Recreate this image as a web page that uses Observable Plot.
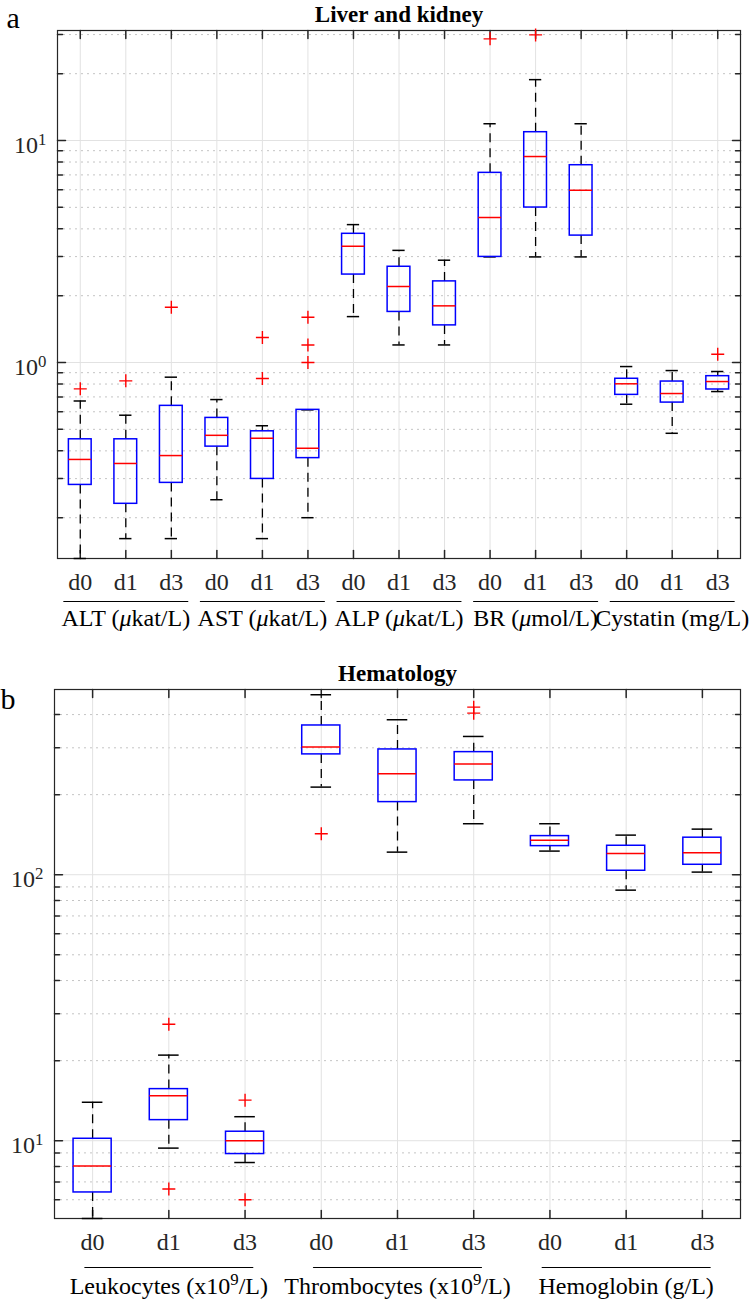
<!DOCTYPE html>
<html>
<head>
<meta charset="utf-8">
<script src="https://cdn.jsdelivr.net/npm/d3@7"></script>
<script src="https://cdn.jsdelivr.net/npm/@observablehq/plot@0.6"></script>
<style>
  html, body { margin: 0; padding: 0; background: #fff; }
  #chart { width: 750px; }
  #chart svg { display: block; }
  #chart svg text { font-family: "Liberation Serif", "Times New Roman", serif; }
</style>
</head>
<body>
<div id="chart"></div>
<script>
// ---------- data ----------
const days = ["d0", "d1", "d3"];

// Panel a: Liver and kidney
const titleA = "Liver and kidney";
const groupsA = ["ALT (μkat/L)", "AST (μkat/L)", "ALP (μkat/L)", "BR (μmol/L)", "Cystatin (mg/L)"];
const whiskerLowA  = [0.131, 0.161, 0.161, 0.241, 0.161, 0.200, 1.61, 1.20, 1.20, 2.99, 2.99, 2.99, 0.649, 0.480, 0.740];
const q1A          = [0.281, 0.231, 0.287, 0.418, 0.299, 0.371, 2.49, 1.69, 1.47, 2.99, 4.99, 3.73, 0.715, 0.660, 0.756];
const medianA      = [0.366, 0.351, 0.381, 0.470, 0.456, 0.411, 3.34, 2.20, 1.80, 4.50, 8.47, 5.97, 0.802, 0.725, 0.821];
const q3A          = [0.451, 0.451, 0.638, 0.563, 0.490, 0.612, 3.80, 2.70, 2.32, 7.15, 10.9, 7.74, 0.845, 0.821, 0.868];
const whiskerHighA = [0.671, 0.579, 0.859, 0.681, 0.519, 0.612, 4.18, 3.20, 2.89, 11.9, 18.8, 11.9, 0.959, 0.920, 0.911];
const outlierBoxA  = [0, 1, 2, 4, 4, 5, 5, 5, 9, 10, 14];
const outlierValA  = [0.761, 0.827, 1.775, 1.296, 0.847, 1.60, 1.20, 1.00, 28.7, 29.9, 1.09];
const yDomainA = [0.131, 31.3];

// Panel b: Hematology
const titleB = "Hematology";
const groupsB = ["Leukocytes (x10^9/L)", "Thrombocytes (x10^9/L)", "Hemoglobin (g/L)"];
const whiskerLowB  = [5.1, 9.38, 8.28, 213.5, 121.6, 155.5, 122.7, 87.5, 102.3];
const q1B          = [6.39, 11.95, 8.91, 283.4, 187.5, 226.2, 128.1, 103.5, 109.0];
const medianB      = [8.03, 14.77, 10.0, 301.8, 239.8, 260.5, 134.9, 120.2, 121.0];
const q3B          = [10.17, 15.63, 10.81, 364, 295.8, 289, 139.7, 128.5, 137.8];
const whiskerHighB = [13.95, 20.98, 12.31, 474.9, 382.5, 331, 155.5, 140.9, 148.4];
const outlierBoxB  = [1, 1, 2, 2, 3, 5, 5];
const outlierValB  = [27.4, 6.58, 14.21, 6.0, 142.6, 426.6, 405];
const yDomainB = [5.1, 497];

// ---------- helpers ----------
const INK = "#262626";
const FONT = "Liberation Serif";

const lineShape = {draw(ctx, l) { ctx.moveTo(0, 0); ctx.lineTo(0, -l); }};
const plusSymbol = {draw(ctx, size) {
  const r = Math.sqrt(size / Math.PI);
  ctx.moveTo(-r, 0); ctx.lineTo(r, 0); ctx.moveTo(0, -r); ctx.lineTo(0, r);
}};

function logTicks(domain) {
  const major = [], minor = [];
  const lo = Math.floor(Math.log10(domain[0])), hi = Math.ceil(Math.log10(domain[1]));
  for (let e = lo; e <= hi; e++) {
    const d = Math.pow(10, e);
    if (d >= domain[0] && d <= domain[1]) major.push(d);
    for (let k = 2; k <= 9; k++) {
      const v = +(k * d).toPrecision(6);
      if (v >= domain[0] && v <= domain[1]) minor.push(v);
    }
  }
  return {major, minor};
}

const svgns = "http://www.w3.org/2000/svg";
function enrich(node) {
  const s = node.textContent;
  if (!/[\^μ]/.test(s)) return;
  node.textContent = "";
  const re = /(\^\w)|(μ)|([^\^μ]+)/g;
  let m, raised = false;
  while ((m = re.exec(s))) {
    const ts = document.createElementNS(svgns, "tspan");
    if (m[1]) {
      ts.textContent = m[1].slice(1);
      ts.setAttribute("font-size", "0.7em");
      ts.setAttribute("dy", "-0.5em");
      raised = true;
    } else if (m[2]) {
      ts.textContent = "μ";
      ts.setAttribute("font-style", "italic");
      if (raised) { ts.setAttribute("dy", "0.35em"); raised = false; }
    } else {
      ts.textContent = m[3];
      if (raised) { ts.setAttribute("dy", "0.35em"); raised = false; }
    }
    node.appendChild(ts);
  }
}

function panel(cfg) {
  const n = cfg.q1.length;
  const rows = d3.range(n).map(i => ({
    i: i + 1, wlo: cfg.wlo[i], q1: cfg.q1[i], med: cfg.med[i], q3: cfg.q3[i], whi: cfg.whi[i]
  }));
  const outliers = cfg.outBox.map((b, k) => ({i: b + 1, v: cfg.outVal[k]}));
  const positions = rows.map(d => d.i);
  const groups = cfg.groups.map((g, j) => ({x: 3 * j + 2, label: g}));
  const {major, minor} = logTicks(cfg.yDomain);
  const hb = 0.25, hc = 0.135;
  const FS = 24;

  const plot = Plot.plot({
    width: 750,
    height: cfg.height,
    marginLeft: cfg.marginLeft,
    marginRight: 10,
    marginTop: cfg.marginTop,
    marginBottom: cfg.marginBottom,
    style: {fontFamily: FONT, fontSize: FS + "px", color: INK, background: "#fff"},
    x: {domain: [0.5, n + 0.5]},
    y: {type: "log", domain: cfg.yDomain},
    marks: [
      // grid
      Plot.ruleY(minor, {stroke: "#c4c4c4", strokeDasharray: "2,4", strokeWidth: 1}),
      Plot.ruleY(major, {stroke: "#e2e2e2", strokeWidth: 1}),
      Plot.ruleX(positions, {stroke: "#e2e2e2", strokeWidth: 1}),
      // inward tick marks
      Plot.vector(major, {y: d => d, frameAnchor: "left", rotate: 90, length: 8, anchor: "start", shape: lineShape, stroke: INK}),
      Plot.vector(minor, {y: d => d, frameAnchor: "left", rotate: 90, length: 5, anchor: "start", shape: lineShape, stroke: INK}),
      Plot.vector(major, {y: d => d, frameAnchor: "right", rotate: -90, length: 8, anchor: "start", shape: lineShape, stroke: INK}),
      Plot.vector(minor, {y: d => d, frameAnchor: "right", rotate: -90, length: 5, anchor: "start", shape: lineShape, stroke: INK}),
      Plot.vector(positions, {x: d => d, frameAnchor: "bottom", rotate: 0, length: 8, anchor: "start", shape: lineShape, stroke: INK}),
      Plot.vector(positions, {x: d => d, frameAnchor: "top", rotate: 180, length: 8, anchor: "start", shape: lineShape, stroke: INK}),
      Plot.frame({stroke: INK, strokeWidth: 1.2}),
      // whiskers
      Plot.ruleX(rows, {x: "i", y1: "q3", y2: "whi", stroke: "#000", strokeWidth: 1.3, strokeDasharray: "9,6"}),
      Plot.ruleX(rows, {x: "i", y1: "q1", y2: "wlo", stroke: "#000", strokeWidth: 1.3, strokeDasharray: "9,6"}),
      Plot.ruleY(rows, {y: "whi", x1: d => d.i - hc, x2: d => d.i + hc, stroke: "#000", strokeWidth: 1.5}),
      Plot.ruleY(rows, {y: "wlo", x1: d => d.i - hc, x2: d => d.i + hc, stroke: "#000", strokeWidth: 1.5}),
      // boxes
      Plot.rect(rows, {x1: d => d.i - hb, x2: d => d.i + hb, y1: "q1", y2: "q3", fill: "none", stroke: "#0000ff", strokeWidth: 1.5}),
      Plot.ruleY(rows, {y: "med", x1: d => d.i - hb, x2: d => d.i + hb, stroke: "#ff0000", strokeWidth: 1.5}),
      // outliers
      Plot.dot(outliers, {x: "i", y: "v", symbol: plusSymbol, r: 6.5, fill: "none", stroke: "#ff0000", strokeWidth: 1.4}),
      // axes
      Plot.axisY({ticks: major, tickSize: 0, tickPadding: 11, dy: 5, fontSize: FS, fontFamily: FONT, fill: INK,
                  tickFormat: d => "10^" + Math.round(Math.log10(d)), label: null}),
      Plot.axisX({ticks: positions, tickSize: 0, tickPadding: 14, fontSize: FS, fontFamily: FONT, fill: INK,
                  tickFormat: d => days[(d - 1) % 3], label: null}),
      // group overlines and labels
      Plot.vector(groups, {x: "x", frameAnchor: "bottom", dy: cfg.lineDy, rotate: 90, length: cfg.lineLen, anchor: "middle", shape: lineShape, stroke: "#000", strokeWidth: 1.2}),
      Plot.text(groups, {x: "x", text: "label", frameAnchor: "bottom", lineAnchor: "bottom", dy: cfg.labelDy, fontSize: FS, fontFamily: FONT, fill: "#000"}),
      // title and panel letter
      Plot.text([cfg.title], {frameAnchor: "top", lineAnchor: "bottom", dy: -9, fontWeight: "bold", fontSize: 23, fontFamily: FONT, fill: "#000"}),
      Plot.text([cfg.letter], {frameAnchor: "top-left", textAnchor: "start", lineAnchor: "bottom", dx: cfg.letterDx, dy: cfg.letterDy, fontSize: 30, fontFamily: FONT, fill: "#000"})
    ]
  });
  d3.select(plot).selectAll("text").each(function () { enrich(this); });
  return plot;
}

const chart = document.getElementById("chart");
chart.append(panel({
  title: titleA, letter: "a", groups: groupsA,
  wlo: whiskerLowA, q1: q1A, med: medianA, q3: q3A, whi: whiskerHighA,
  outBox: outlierBoxA, outVal: outlierValA, yDomain: yDomainA,
  height: 640, marginLeft: 57, marginTop: 30, marginBottom: 82,
  lineDy: 43, lineLen: 124, labelDy: 67, letterDx: -51, letterDy: -3
}));
chart.append(panel({
  title: titleB, letter: "b", groups: groupsB,
  wlo: whiskerLowB, q1: q1B, med: medianB, q3: q3B, whi: whiskerHighB,
  outBox: outlierBoxB, outVal: outlierValB, yDomain: yDomainB,
  height: 661, marginLeft: 54, marginTop: 49, marginBottom: 83,
  lineDy: 49, lineLen: 168, labelDy: 75, letterDx: -54, letterDy: 19
}));
</script>
</body>
</html>
